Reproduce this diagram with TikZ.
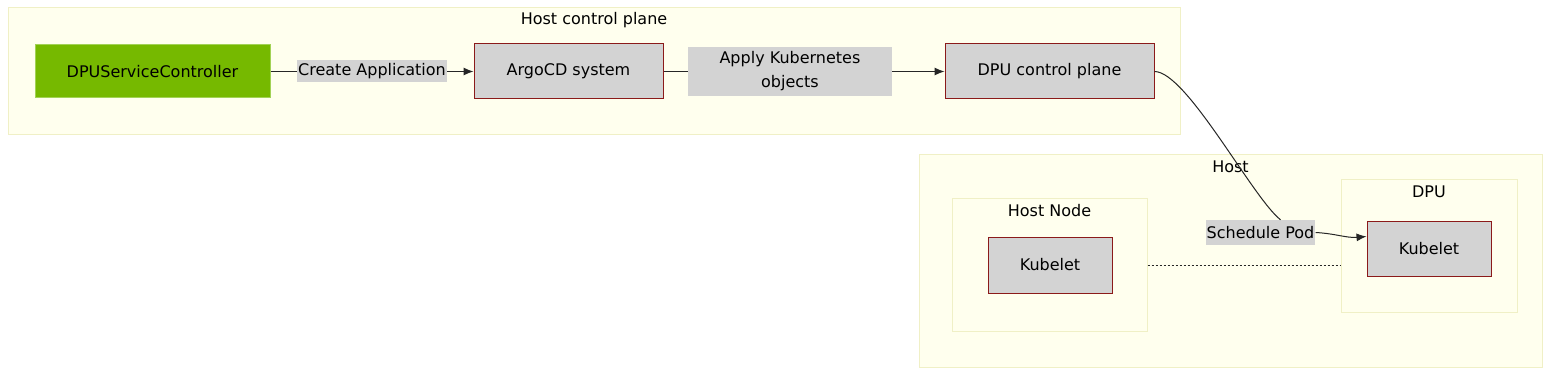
\documentclass[tikz,border=0pt]{standalone}
\usepackage{fontspec}
\setmainfont{DejaVu Sans}
\usepackage{tikz}
\usetikzlibrary{arrows.meta,positioning}
\definecolor{nvgreen}{HTML}{76B900}
\definecolor{nvedge}{HTML}{A2D255}
\definecolor{boxfill}{HTML}{D3D3D3}
\definecolor{boxedge}{HTML}{8B1A1A}
\definecolor{grpfill}{HTML}{FFFFEE}
\definecolor{grpedge}{HTML}{F0F0C6}

\begin{document}
\begin{tikzpicture}[
  x=1pt,y=-1pt,
  font=\fontsize{16pt}{24pt}\selectfont,
  group/.style={draw=grpedge,fill=grpfill,line width=1pt,inner sep=0pt},
  grouptitle/.style={inner sep=0pt,anchor=north},
  ctrl/.style={draw=nvedge,fill=nvgreen,line width=1pt,minimum width=235pt,minimum height=53pt},
  box/.style={draw=boxedge,fill=boxfill,line width=1pt,minimum height=55pt},
  elabel/.style={fill=boxfill,inner sep=1pt,align=center},
  arr/.style={-{Latex[length=10pt,width=8pt]},line width=1pt,draw=black!85},
  link/.style={line width=1pt,draw=black!85}
]
  \useasboundingbox (0,0) rectangle (1568,382);
  \node[group,minimum width=1172pt,minimum height=127pt] (hostcp) at (594,71.5) {};
  \node[grouptitle,below=5pt of hostcp.north] {Host control plane};
  \node[group,minimum width=623pt,minimum height=212pt] (host) at (1230.5,261) {};
  \node[grouptitle,below=6pt of host.north] {Host};
  \node[group,minimum width=195pt,minimum height=132pt] (hostnode) at (1049.5,265) {};
  \node[grouptitle,below=6pt of hostnode.north] {Host Node};
  \node[group,minimum width=176pt,minimum height=132pt] (dpu) at (1429,246) {};
  \node[grouptitle,below=6pt of dpu.north] {DPU};

  \node[ctrl] (dpusc) at (152.5,71.5) {DPUServiceController};
  \node[box,minimum width=189pt] (argocd) at (568.5,71.5) {ArgoCD system};
  \node[box,minimum width=209pt] (dpucp) at (1049.5,71.5) {DPU control plane};
  \node[box,minimum width=124pt,minimum height=56pt] (kubeleth) at (1050,265) {Kubelet};
  \node[box,minimum width=124pt] (kubeletd) at (1429,248.5) {Kubelet};

  \draw[arr] (dpusc) -- node[elabel,minimum width=150pt,minimum height=22pt]{Create Application} (argocd);
  \draw[arr] (argocd) -- node[elabel,pos=0.45,minimum width=204pt,minimum height=49pt]{Apply Kubernetes\\objects} (dpucp);
  \node[elabel,minimum width=109pt,minimum height=25pt] (sched) at (1260.5,232.5) {Schedule Pod};
  \draw[link] (dpucp.east) .. controls +(32,0) and +(-28,-22) .. ([xshift=-35pt]sched.north east);
  \draw[arr] (sched.east) to[out=-3,in=185] ([yshift=12pt]kubeletd.west);
  \draw[link,dash pattern=on 2pt off 2pt] (hostnode.east) -- (hostnode.east -| dpu.west);
\end{tikzpicture}
\end{document}
